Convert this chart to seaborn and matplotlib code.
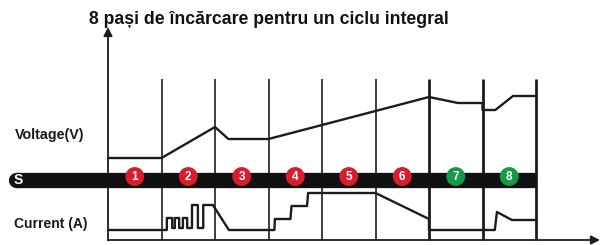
import matplotlib
matplotlib.use("Agg")
import matplotlib.pyplot as plt
import seaborn as sns

sns.set_style("white")
plt.rcParams['font.family'] = ['Liberation Sans Narrow', 'Liberation Sans', 'DejaVu Sans']

# ---- data ----
title = "8 pași de încărcare pentru un ciclu integral"
voltage_label = "Voltage(V)"
current_label = "Current (A)"
band_label = "S"

step_numbers = [1, 2, 3, 4, 5, 6, 7, 8]
step_kinds = ["red", "red", "red", "red", "red", "red", "green", "green"]

volt_t = [0, 1, 2, 2.25, 3, 6, 6.54, 7, 7, 7.24, 7.57, 8]
volt_v = [82, 82, 113, 101, 101, 143, 137, 137, 130, 130, 144, 144]

cur_t = [0, 1, 1.10, 1.10, 1.20, 1.20, 1.25, 1.25, 1.33, 1.33, 1.40, 1.40,
         1.48, 1.48, 1.57, 1.57, 1.68, 1.68, 1.78, 1.78, 1.96, 2.26, 3,
         3.11, 3.12, 3.41, 3.43, 3.72, 3.74, 5, 6, 6, 7, 7.23, 7.27, 7.55, 8]
cur_v = [10, 10, 10, 22, 22, 12, 12, 22, 22, 12, 12, 22,
         22, 12, 12, 35, 35, 12, 12, 35, 35, 10, 10,
         10, 21, 21, 34, 34, 47, 47, 21, 10, 10, 10, 28, 20, 20]

# ---- layout ----
W, H = 601, 245
fig = plt.figure(figsize=(W / 100, H / 100), dpi=100)
ax = fig.add_axes([0, 0, 1, 1])
x0, step_px = 108, 53.5
ax.set_xlim(-x0 / step_px, (W - x0) / step_px)
ax.set_ylim(-5, 240)
ax.axis("off")

ink = "#1c1c1c"
colors = {"red": "#d81e2c", "green": "#17994a"}

# step dividers
for t in range(1, 9):
    lw = 2.0 if t >= 6 else 1.2
    ax.plot([t, t], [0, 161], color=ink, lw=lw, solid_capstyle="butt", zorder=2)

# axes arrows
ax.annotate("", xy=(0, 213), xytext=(0, -0.3),
            arrowprops=dict(arrowstyle="-|>", lw=1.3, color=ink,
                            mutation_scale=13, shrinkA=0, shrinkB=0), zorder=3)
ax.annotate("", xy=((W - 1 - x0) / step_px, 0), xytext=(0, 0),
            arrowprops=dict(arrowstyle="-|>", lw=1.3, color=ink,
                            mutation_scale=13, shrinkA=0, shrinkB=0), zorder=3)

# black band
band_left = (16 - x0) / step_px
ax.plot([band_left, 8], [60.5, 60.5], color="#111111", lw=11.0,
        solid_capstyle="butt", zorder=3)
ax.plot([band_left, band_left + 0.05], [60.5, 60.5], color="#111111", lw=11.0,
        solid_capstyle="round", zorder=3)
ax.text((18 - x0) / step_px, 60, band_label, color="white", fontsize=10,
        fontweight="bold", ha="center", va="center", zorder=5)

# numbered circles
circ_t = [n - 0.5 for n in step_numbers]
circ_v = [63.5] * len(step_numbers)
sns.scatterplot(x=circ_t, y=circ_v, hue=step_kinds, palette=colors, s=185,
                edgecolor="none", legend=False, ax=ax, zorder=6)
for t, n in zip(circ_t, step_numbers):
    ax.text(t, 63.2, str(n), color="white", fontsize=8.5, fontweight="bold",
            ha="center", va="center", zorder=7)

# voltage and current traces
sns.lineplot(x=volt_t, y=volt_v, sort=False, estimator=None, color=ink,
             lw=1.7, ax=ax, zorder=4)
sns.lineplot(x=cur_t, y=cur_v, sort=False, estimator=None, color=ink,
             lw=1.7, ax=ax, zorder=4)

# texts
def fit_text(txt, target_w):
    fig.canvas.draw()
    bb = txt.get_window_extent(renderer=fig.canvas.get_renderer())
    txt.set_fontsize(txt.get_fontsize() * target_w / bb.width)

t_title = fig.text(89 / W, 1 - 19 / H, title, fontsize=14, fontweight="bold",
                   color="#111111", ha="left", va="center")
fit_text(t_title, 360)
t_volt = fig.text(15 / W, 1 - 135 / H, voltage_label, fontsize=9,
                  fontweight="bold", color="#1a1a1a", ha="left", va="center")
fit_text(t_volt, 70)
t_cur = fig.text(14 / W, 1 - 224 / H, current_label, fontsize=9,
                 fontweight="bold", color="#1a1a1a", ha="left", va="center")
fit_text(t_cur, 73)

fig.savefig("out.png", dpi=100)
